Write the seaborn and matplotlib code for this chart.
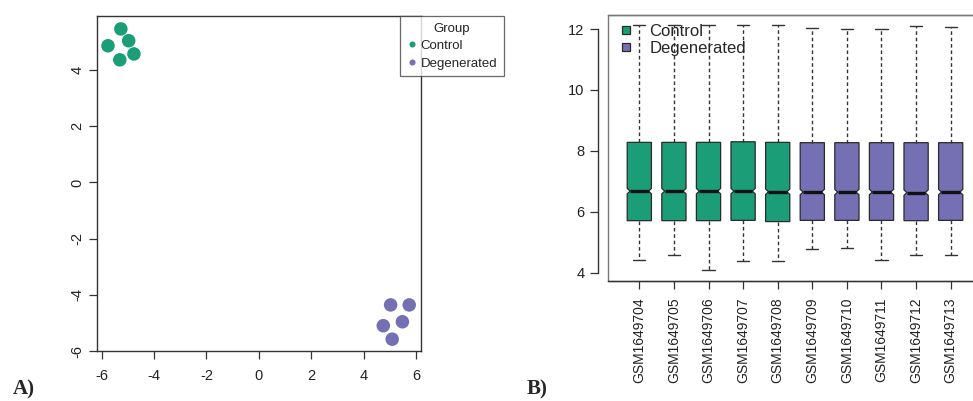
import matplotlib
matplotlib.use("Agg")
import matplotlib.pyplot as plt
import seaborn as sns
import pandas as pd
from matplotlib.path import Path
from matplotlib.patches import Rectangle, PathPatch

# ---------------- data ----------------
# Panel A: PCA scores
pca_group = ["Control"] * 5 + ["Degenerated"] * 5
pc1 = [-5.27, -4.97, -5.76, -4.77, -5.31, 5.03, 5.74, 5.48, 4.75, 5.09]
pc2 = [5.46, 5.04, 4.86, 4.57, 4.36, -4.36, -4.36, -4.96, -5.10, -5.58]

# Panel B: per-sample box summaries
samples = ["GSM1649704", "GSM1649705", "GSM1649706", "GSM1649707", "GSM1649708",
           "GSM1649709", "GSM1649710", "GSM1649711", "GSM1649712", "GSM1649713"]
sample_group = ["Control"] * 5 + ["Degenerated"] * 5
whisker_low = [4.42, 4.59, 4.08, 4.37, 4.37, 4.78, 4.81, 4.43, 4.59, 4.59]
q1 = [5.71, 5.71, 5.71, 5.72, 5.68, 5.72, 5.72, 5.72, 5.71, 5.72]
median = [6.68, 6.68, 6.68, 6.68, 6.66, 6.65, 6.65, 6.65, 6.63, 6.65]
q3 = [8.28, 8.28, 8.28, 8.30, 8.28, 8.27, 8.27, 8.27, 8.27, 8.27]
whisker_high = [12.13, 12.13, 12.13, 12.13, 12.14, 12.02, 12.00, 12.00, 12.10, 12.08]
notch_ci = [0.09] * 10

groups = ["Control", "Degenerated"]
colors = ["#1B9E77", "#7570B3"]
palette = dict(zip(groups, colors))

dfA = pd.DataFrame({"PC1": pc1, "PC2": pc2, "Group": pca_group})

rows = []
for s, g, a, b, c, d, e in zip(samples, sample_group, whisker_low, q1, median, q3, whisker_high):
    for v in (a, b, c, d, e):
        rows.append({"Sample": s, "Group": g, "Expression": v})
dfB = pd.DataFrame(rows)

# ---------------- style ----------------
sns.set_theme(style="white")
plt.rcParams["font.family"] = ["Liberation Sans", "DejaVu Sans"]
plt.rcParams["axes.unicode_minus"] = False

W, H = 973, 401
fig = plt.figure(figsize=(W / 100, H / 100), dpi=100)


def px_axes(l, t, r, b):
    return fig.add_axes([l / W, 1 - b / H, (r - l) / W, (b - t) / H])


# ---------------- Panel A ----------------
axA = px_axes(97, 16, 421, 351)
sns.scatterplot(data=dfA, x="PC1", y="PC2", hue="Group", hue_order=groups,
                palette=palette, s=95, linewidth=0, ax=axA)
axA.set_xlim(-6.18, 6.19)
axA.set_ylim(-6.0, 5.92)
axA.set_xticks([-6, -4, -2, 0, 2, 4, 6])
axA.set_yticks([-6, -4, -2, 0, 2, 4])
axA.set_xlabel("")
axA.set_ylabel("")
for sp in axA.spines.values():
    sp.set_color("#333333")
    sp.set_linewidth(1.0)
axA.tick_params(axis="both", direction="out", length=6, width=0.9, color="#333333",
                labelsize=10.5, labelcolor="#222222")
axA.tick_params(axis="x", pad=7, bottom=True)
axA.tick_params(axis="y", pad=3, left=True, labelrotation=90)
for lab in axA.get_yticklabels():
    lab.set_va("center")

sns.move_legend(axA, "upper left", bbox_to_anchor=(400 / W, 1 - 16 / H),
                bbox_transform=fig.transFigure, frameon=True, fancybox=False,
                title="Group", fontsize=9.5, title_fontsize=9.5, markerscale=0.45,
                borderpad=0.5, handletextpad=0.25, labelspacing=0.4, handlelength=0.8,
                borderaxespad=0)
legA = axA.get_legend()
legA.get_frame().set_edgecolor("#444444")
legA.get_frame().set_linewidth(0.9)
legA.get_title().set_color("#222222")

# ---------------- Panel B ----------------
axB = px_axes(608, 15, 982, 281)
lc = "#2a2a2a"
sns.boxplot(data=dfB, x="Sample", y="Expression", hue="Group", hue_order=groups,
            order=samples, palette=palette, width=0.7, whis=(0, 100), saturation=1,
            linecolor=lc, linewidth=0.9, ax=axB,
            whiskerprops=dict(color="#333333", linewidth=1.0, linestyle=(0, (2.6, 2.0))),
            capprops=dict(color="#333333", linewidth=1.0),
            medianprops=dict(visible=False))

# notched boxes and thick median bars
for patch in list(axB.patches):
    if not isinstance(patch, PathPatch):
        continue
    verts = patch.get_path().vertices
    if len(verts) < 4:
        continue
    x0, x1 = verts[:, 0].min(), verts[:, 0].max()
    yb, yt = verts[:, 1].min(), verts[:, 1].max()
    i = int(round((x0 + x1) / 2))
    m, n = median[i], notch_ci[i]
    ind = 0.12 * (x1 - x0)
    pts = [(x0, yb), (x1, yb), (x1, m - n), (x1 - ind, m), (x1, m + n), (x1, yt),
           (x0, yt), (x0, m + n), (x0 + ind, m), (x0, m - n), (x0, yb)]
    codes = [Path.MOVETO] + [Path.LINETO] * 9 + [Path.CLOSEPOLY]
    patch.set_path(Path(pts, codes))
    axB.hlines(m, x0 + ind, x1 - ind, color="#111111", linewidth=2.4, zorder=5)

axB.set_xlim(-0.905, 9.905)
axB.set_ylim(3.73, 12.46)
axB.set_yticks([4, 6, 8, 10, 12])
axB.set_xlabel("")
axB.set_ylabel("")
for name, sp in axB.spines.items():
    sp.set_color("#777777")
    sp.set_linewidth(1.0)
axB.spines["left"].set_position(("outward", 7))
axB.spines["left"].set_bounds(4, 12)
axB.spines["left"].set_color("#333333")
axB.spines["bottom"].set_color("#333333")
axB.add_patch(Rectangle((0, 0), 1, 1, transform=axB.transAxes, fill=False,
                        edgecolor="#777777", linewidth=1.0, clip_on=False, zorder=0))
axB.tick_params(axis="both", direction="out", length=6, width=0.9, color="#333333",
                labelsize=10.5, labelcolor="#222222", left=True, bottom=True)
axB.tick_params(axis="y", pad=4)
axB.tick_params(axis="x", pad=6, labelsize=10, labelrotation=90)

sns.move_legend(axB, "upper left", bbox_to_anchor=(622 / W, 1 - 24 / H),
                bbox_transform=fig.transFigure, frameon=False, title=None,
                fontsize=12, handlelength=0.45, handleheight=0.35, handletextpad=1.2,
                labelspacing=0.12, borderpad=0, borderaxespad=0)

# panel labels
fig.text(13 / W, 1 - 389 / H, "A)", family=["Liberation Serif", "DejaVu Serif"],
         weight="bold", fontsize=15, va="center", ha="left")
fig.text(527 / W, 1 - 389 / H, "B)", family=["Liberation Serif", "DejaVu Serif"],
         weight="bold", fontsize=15, va="center", ha="left")

fig.savefig("out.png", dpi=100)
